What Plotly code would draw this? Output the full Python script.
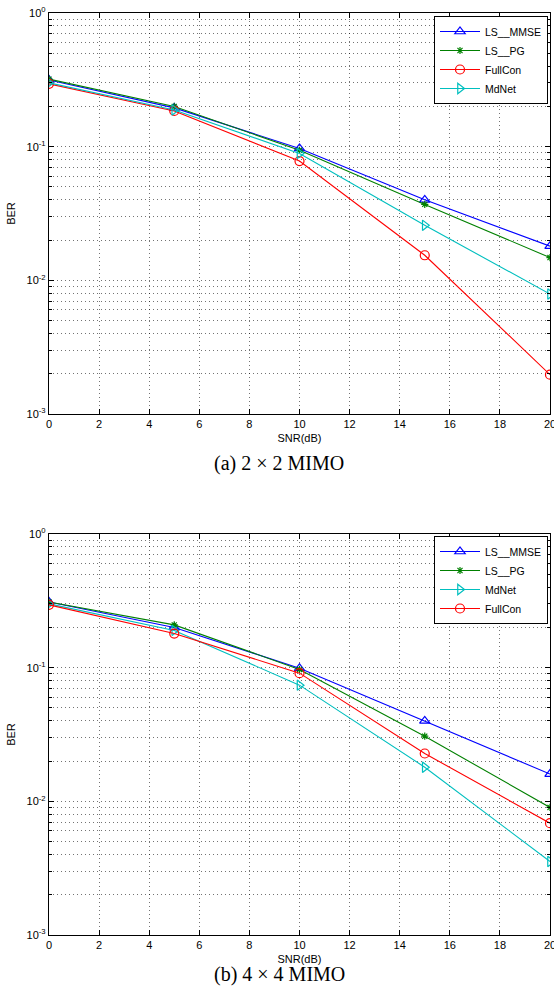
import plotly.graph_objects as go

snr = [0, 5, 10, 15, 20]
x_ticks = [0, 2, 4, 6, 8, 10, 12, 14, 16, 18, 20]
y_exponents = [-3, -2, -1, 0]
y_ticktext = ["10<sup>-3</sup>", "10<sup>-2</sup>", "10<sup>-1</sup>", "10<sup>0</sup>"]
minor_mult = [2, 3, 4, 5, 6, 7, 8, 9]

# (a) 2x2 MIMO
a_ls_mmse = [0.315, 0.195, 0.097, 0.040, 0.018]
a_ls_pg = [0.32, 0.20, 0.094, 0.037, 0.0148]
a_fullcon = [0.295, 0.185, 0.078, 0.0154, 0.00197]
a_mdnet = [0.30, 0.188, 0.089, 0.0258, 0.0079]

# (b) 4x4 MIMO
b_ls_mmse = [0.31, 0.20, 0.099, 0.040, 0.016]
b_ls_pg = [0.31, 0.209, 0.097, 0.0307, 0.009]
b_mdnet = [0.30, 0.19, 0.074, 0.018, 0.00355]
b_fullcon = [0.295, 0.18, 0.091, 0.0228, 0.00686]

W, H = 554, 1003
BLUE, GREEN, RED, CYAN = "#0000FF", "#008000", "#FF0000", "#00BFBF"

styles = {
    "LS__MMSE": dict(color=BLUE, symbol="triangle-up-open", size=9),
    "LS__PG": dict(color=GREEN, symbol="asterisk-open", size=6),
    "FullCon": dict(color=RED, symbol="circle-open", size=9),
    "MdNet": dict(color=CYAN, symbol="triangle-right-open", size=9),
}

y_tickvals = [10.0 ** e for e in y_exponents]
y_minor = [m * 10.0 ** e for e in y_exponents[:-1] for m in minor_mult]

fig = go.Figure()

def add(name, ys, xa, ya, legend):
    s = styles[name]
    fig.add_trace(go.Scatter(
        x=snr, y=ys, name=name, mode="lines+markers",
        line=dict(color=s["color"], width=1.1),
        marker=dict(symbol=s["symbol"], size=s["size"], color=s["color"],
                    line=dict(color=s["color"], width=1.2)),
        xaxis=xa, yaxis=ya, legend=legend))

add("LS__MMSE", a_ls_mmse, "x", "y", "legend")
add("LS__PG", a_ls_pg, "x", "y", "legend")
add("FullCon", a_fullcon, "x", "y", "legend")
add("MdNet", a_mdnet, "x", "y", "legend")

add("LS__MMSE", b_ls_mmse, "x2", "y2", "legend2")
add("LS__PG", b_ls_pg, "x2", "y2", "legend2")
add("MdNet", b_mdnet, "x2", "y2", "legend2")
add("FullCon", b_fullcon, "x2", "y2", "legend2")

xl, xr = 49, 550
dom_x = [xl / W, xr / W]
top_a, bot_a = 13, 414
top_b, bot_b = 534, 935
dom_ya = [1 - bot_a / H, 1 - top_a / H]
dom_yb = [1 - bot_b / H, 1 - top_b / H]

FONT = "Liberation Sans, Arial"
tickfont = dict(family=FONT, size=11, color="black")
GRIDC = "rgba(0,0,0,0.55)"
grid = dict(showgrid=True, gridcolor=GRIDC, griddash="1px,3px", gridwidth=1)

def xaxis(domain, anchor):
    return dict(domain=domain, anchor=anchor, range=[0, 20], tickmode="array",
                tickvals=x_ticks, ticks="inside", ticklen=5, tickcolor="black",
                showline=True, linecolor="black", linewidth=1.3, mirror="ticks",
                zeroline=False, tickfont=tickfont, automargin=False,
                ticklabeloverflow="allow",
                title=dict(text="SNR(dB)", font=dict(family=FONT, size=11, color="black"), standoff=4),
                **grid)

def yaxis(domain, anchor):
    return dict(domain=domain, anchor=anchor, type="log", range=[-3, 0],
                tickmode="array", tickvals=y_tickvals, ticktext=y_ticktext,
                ticks="inside", ticklen=5, tickcolor="black",
                showline=True, linecolor="black", linewidth=1.3, mirror="ticks",
                zeroline=False, tickfont=tickfont, automargin=False,
                ticklabeloverflow="allow",
                minor=dict(tickmode="array", tickvals=y_minor, ticks="inside", ticklen=3,
                           tickcolor="black", showgrid=True, gridcolor=GRIDC,
                           griddash="1px,3px"),
                title=dict(text="BER", font=dict(family=FONT, size=11, color="black"), standoff=8),
                **grid)

legfont = dict(family=FONT, size=10.5, color="black")

fig.update_layout(
    width=W, height=H, margin=dict(l=0, r=0, t=0, b=0),
    paper_bgcolor="white", plot_bgcolor="white",
    xaxis=xaxis(dom_x, "y"), yaxis=yaxis(dom_ya, "x"),
    xaxis2=xaxis(dom_x, "y2"), yaxis2=yaxis(dom_yb, "x2"),
    legend=dict(x=548 / W, y=1 - 16 / H, xanchor="right", yanchor="top",
                bgcolor="white", bordercolor="black", borderwidth=1,
                font=legfont, tracegroupgap=0, itemwidth=40),
    legend2=dict(x=548 / W, y=1 - 536 / H, xanchor="right", yanchor="top",
                 bgcolor="white", bordercolor="black", borderwidth=1,
                 font=legfont, tracegroupgap=0, itemwidth=40),
    annotations=[
        dict(text="(a) 2 × 2 MIMO", x=279 / W, y=1 - 463 / H, xref="paper", yref="paper",
             showarrow=False, font=dict(family="Liberation Serif, Times New Roman", size=20, color="black")),
        dict(text="(b) 4 × 4 MIMO", x=279 / W, y=1 - 988 / H, xref="paper", yref="paper",
             showarrow=False, font=dict(family="Liberation Serif, Times New Roman", size=20, color="black")),
    ],
)

fig.write_html("out.html", config={"displayModeBar": False},
               post_script="document.body.style.margin='0';document.body.style.overflow='hidden';")
